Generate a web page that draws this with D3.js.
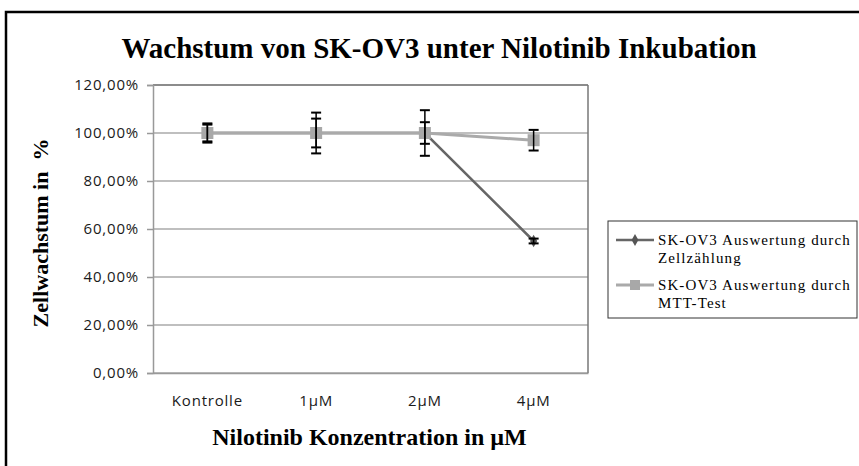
<!DOCTYPE html>
<html>
<head>
<meta charset="utf-8">
<script src="https://cdn.jsdelivr.net/npm/d3@7"></script>
<style>
  body { margin: 0; background: #fff; }
  svg { display: block; }
  .serif { font-family: "Liberation Serif", "DejaVu Serif", serif; font-weight: bold; fill: #000; }
  .tick text { font-family: "Open Sans", "Liberation Sans", sans-serif; font-size: 15px; letter-spacing: 0.8px; fill: #1a1a1a; }
</style>
</head>
<body>
<div id="chart"></div>
<script>
// categories and series (values in fraction)
var categories = ["Kontrolle", "1µM", "2µM", "4µM"];
var zellValues = [1.00, 1.00, 1.00, 0.55];
var zellErrors = [0.04, 0.085, 0.095, 0.01];
var mttValues = [1.00, 1.00, 1.00, 0.97];
var mttErrors = [0.035, 0.06, 0.045, 0.043];
var yTicks = [0, 0.2, 0.4, 0.6, 0.8, 1.0, 1.2];
var legendLabels = [["SK-OV3 Auswertung durch", "Zellzählung"], ["SK-OV3 Auswertung durch", "MTT-Test"]];

var svgWidth = 859, svgHeight = 466;
var margin = { top: 85, right: 271, bottom: 93, left: 153 };
var width = svgWidth - margin.left - margin.right;
var height = svgHeight - margin.top - margin.bottom;

var svg = d3.select("#chart").append("svg")
  .attr("width", svgWidth)
  .attr("height", svgHeight);

// outer frame
svg.append("rect")
  .attr("x", 6).attr("y", 12)
  .attr("width", 870).attr("height", 480)
  .attr("fill", "none").attr("stroke", "#000").attr("stroke-width", 2.5);

var de = d3.formatLocale({ decimal: ",", thousands: ".", grouping: [3], currency: ["", " €"] });
var pct = de.format(".2%");

var x = d3.scaleBand().domain(categories).range([0, width]);
var y = d3.scaleLinear().domain([0, 1.2]).range([height, 0]);

var g = svg.append("g").attr("transform", `translate(${margin.left}, ${margin.top})`);

// gridlines
g.selectAll(".grid").data(yTicks).enter().append("line")
  .attr("x1", 0).attr("x2", width)
  .attr("y1", d => y(d)).attr("y2", d => y(d))
  .attr("stroke", d => d === 1.2 ? "#666" : "#aaa")
  .attr("stroke-width", 1.5);

// plot area right border
g.append("line")
  .attr("x1", width).attr("x2", width).attr("y1", 0).attr("y2", height)
  .attr("stroke", "#777").attr("stroke-width", 1.5);

// axes
var yAxis = g.append("g")
  .call(d3.axisLeft(y).tickValues(yTicks).tickFormat(pct).tickSize(6).tickPadding(8));
yAxis.select(".domain").attr("stroke", "#999").attr("stroke-width", 1.5);
yAxis.selectAll(".tick line").attr("stroke", "#999").attr("stroke-width", 1.5);

var xAxis = g.append("g")
  .attr("transform", `translate(0, ${height})`)
  .call(d3.axisBottom(x).tickSize(0).tickPadding(22));
xAxis.select(".domain").attr("stroke", "#999").attr("stroke-width", 1.5);

var line = d3.line().x((d, i) => x(categories[i]) + x.bandwidth() / 2).y(d => y(d));
var cx = i => x(categories[i]) + x.bandwidth() / 2;

// Zellzählung series
g.append("path").datum(zellValues)
  .attr("d", line).attr("fill", "none")
  .attr("stroke", "#666").attr("stroke-width", 2.5);
g.selectAll(".zell").data(zellValues).enter().append("path")
  .attr("d", d3.symbol(d3.symbolDiamond, 45))
  .attr("transform", (d, i) => `translate(${cx(i)}, ${y(d)})`)
  .attr("fill", "#555");

// MTT series
g.append("path").datum(mttValues)
  .attr("d", line).attr("fill", "none")
  .attr("stroke", "#aaa").attr("stroke-width", 3);
g.selectAll(".mtt").data(mttValues).enter().append("rect")
  .attr("x", (d, i) => cx(i) - 6).attr("y", d => y(d) - 6)
  .attr("width", 12).attr("height", 12)
  .attr("fill", "#a8a8a8");

// error bars
function errorBars(values, errors) {
  var eb = g.append("g");
  values.forEach(function(v, i) {
    var xc = cx(i);
    eb.append("line")
      .attr("x1", xc).attr("x2", xc)
      .attr("y1", y(v + errors[i])).attr("y2", y(v - errors[i]))
      .attr("stroke", "#000").attr("stroke-width", 1.5);
    [v + errors[i], v - errors[i]].forEach(function(e) {
      eb.append("line")
        .attr("x1", xc - 5).attr("x2", xc + 5)
        .attr("y1", y(e)).attr("y2", y(e))
        .attr("stroke", "#000").attr("stroke-width", 2);
    });
  });
}
errorBars(zellValues, zellErrors);
errorBars(mttValues, mttErrors);

// titles
svg.append("text").attr("class", "serif")
  .attr("x", 439).attr("y", 58)
  .attr("text-anchor", "middle")
  .style("font-size", "29px")
  .text("Wachstum von SK-OV3 unter Nilotinib Inkubation");

svg.append("text").attr("class", "serif")
  .attr("transform", `translate(48, ${margin.top + height / 2 + 4}) rotate(-90)`)
  .attr("text-anchor", "middle")
  .style("font-size", "22px")
  .attr("xml:space", "preserve")
  .text("Zellwachstum in  %");

svg.append("text").attr("class", "serif")
  .attr("x", margin.left + width / 2 - 1).attr("y", 445)
  .attr("text-anchor", "middle")
  .style("font-size", "24px")
  .text("Nilotinib Konzentration in µM");

// legend
var legend = svg.append("g");
legend.append("rect")
  .attr("x", 608).attr("y", 221).attr("width", 249).attr("height", 97)
  .attr("fill", "#fff").attr("stroke", "#333").attr("stroke-width", 1);
var legendStyles = [{ color: "#666", w: 2.5 }, { color: "#aaa", w: 3 }];
legendLabels.forEach(function(lbl, i) {
  var ly = 240 + i * 45;
  legend.append("line")
    .attr("x1", 616).attr("x2", 654).attr("y1", ly).attr("y2", ly)
    .attr("stroke", legendStyles[i].color).attr("stroke-width", legendStyles[i].w);
  if (i === 0) {
    legend.append("path").attr("d", d3.symbol(d3.symbolDiamond, 40))
      .attr("transform", `translate(635, ${ly})`).attr("fill", "#555");
  } else {
    legend.append("rect").attr("x", 630).attr("y", ly - 5)
      .attr("width", 10).attr("height", 10).attr("fill", "#a8a8a8");
  }
  lbl.forEach(function(t, j) {
    legend.append("text")
      .attr("x", 658).attr("y", ly + 5 + j * 18)
      .style("font-family", "'Liberation Serif', serif")
      .style("font-size", "15px")
      .style("letter-spacing", "1.1px")
      .style("fill", "#000")
      .text(t);
  });
});
</script>
</body>
</html>
